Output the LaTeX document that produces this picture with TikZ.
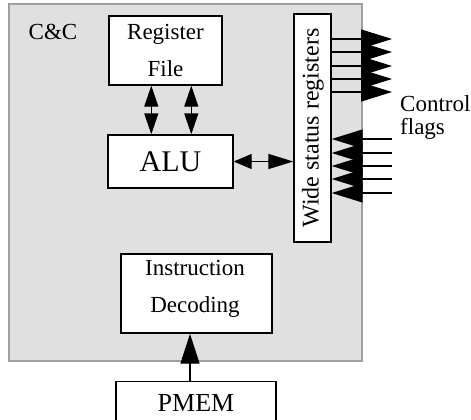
\documentclass[tikz,border=0pt]{standalone}
\usepackage{fontspec}
\setmainfont{Liberation Serif}
\usetikzlibrary{arrows.meta,calc}
\definecolor{panel}{RGB}{224,224,224}
\definecolor{panelrim}{RGB}{160,160,160}
\begin{document}
\begin{tikzpicture}[x=1pt,y=-1pt,
  box/.style={draw=black,line width=1.4pt,fill=white,inner sep=0pt},
  txt/.style={font=\fontsize{23}{37}\selectfont,inner sep=0pt,align=center},
  flag/.style={-{Triangle[length=31pt,width=19pt]},line width=1.2pt},
  dbl/.style={{Triangle[length=21pt,width=14pt]}-{Triangle[length=21pt,width=14pt]},line width=1.4pt},
  link/.style={{Triangle[length=18pt,width=15pt]}-{Triangle[length=25pt,width=15pt]},line width=1.4pt},
  feed/.style={-{Triangle[length=30pt,width=19pt]},line width=1.4pt}]
\useasboundingbox (0,0) rectangle (471,420);

% control & computation panel
\node[draw=panelrim,fill=panel,line width=1.2pt,inner sep=0pt,
      minimum width=353pt,minimum height=357pt] (cc) at (185.5,182.5) {};
\node[txt,anchor=base] (cc-label) at (53,40) {C\&C};

% blocks
\node[box,minimum width=113pt,minimum height=69pt] (rf) at (165.5,50.5) {};
\node[txt,anchor=north] (rf-label) at (165.5,24.3) {Register\\File};

\node[box,minimum width=125pt,minimum height=53pt,
      font=\fontsize{30}{36}\selectfont] (alu) at (170.5,161.5) {ALU};

\node[box,minimum width=37pt,minimum height=228pt] (wsr) at (312.5,128) {};
\node[txt,rotate=90,font=\fontsize{24}{28}\selectfont] (wsr-label) at (313,128) {Wide status registers};

\node[box,minimum width=151pt,minimum height=79pt] (id) at (196.5,293.5) {};
\node[txt,anchor=north] (id-label) at (195,260.3) {Instruction\\Decoding};

\node[box,anchor=north,minimum width=160pt,minimum height=42pt,
      font=\fontsize{26}{30}\selectfont] (pmem) at (196,381) {PMEM};

% register file <-> ALU
\path (rf.south west) ++(43,0) coordinate (p1) ++(40,0) coordinate (p2);
\draw[dbl] (p1) -- (p1 |- alu.north);
\draw[dbl] (p2) -- (p2 |- alu.north);

% ALU <-> status registers
\draw[link] (alu.east) -- (wsr.west |- alu.east);

% program memory feeds the decoder
\path (pmem.north) ++(-6,0) coordinate (pf);
\draw[feed] (pf) -- (pf |- id.south);

% outgoing and incoming control flags
\foreach \i/\y in {1/39,2/52,3/66,4/79,5/92}{
  \coordinate (fo-\i) at (392,\y);
  \draw[flag] (wsr.east |- fo-\i) -- (fo-\i);
}
\foreach \i/\y in {1/139,2/153,3/166,4/179,5/193}{
  \coordinate (fi-\i) at (392,\y);
  \draw[flag] (fi-\i) -- (wsr.east |- fi-\i);
}
\node[txt,align=left,anchor=north west,font=\fontsize{23}{23}\selectfont]
  (flags-label) at (400,95.3) {Control\\flags};
\end{tikzpicture}
\end{document}
